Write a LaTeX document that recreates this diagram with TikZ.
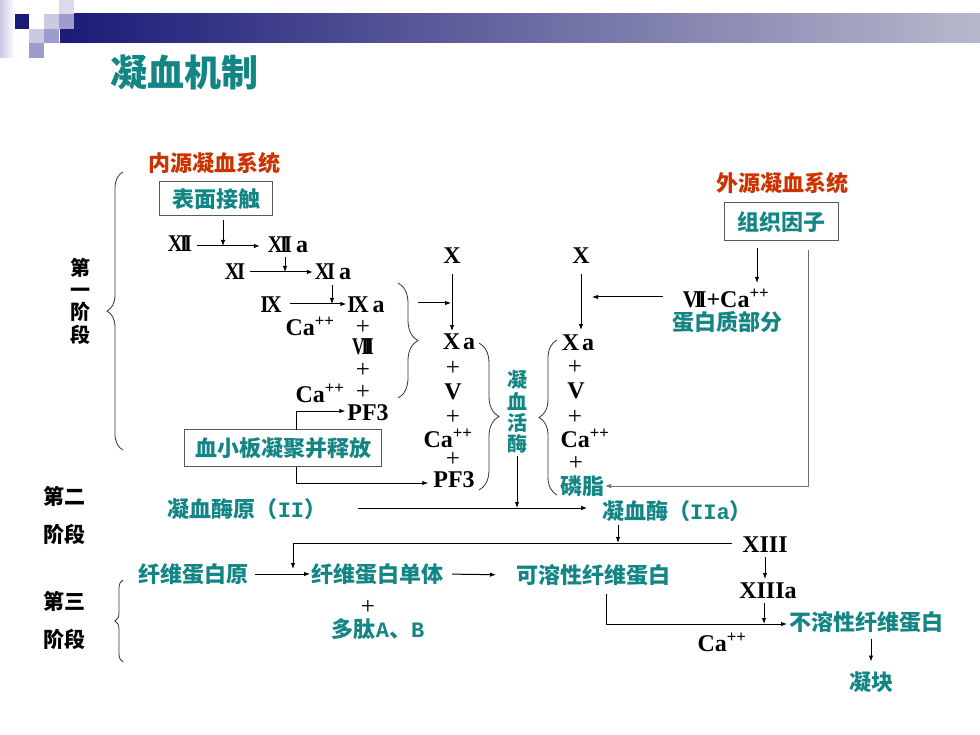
\documentclass[tikz,border=0pt]{standalone}
\usepackage{fontspec}
\setmainfont{Liberation Serif}
\setmonofont{Liberation Mono}
\newfontfamily\cjk{Noto Sans CJK SC}
\usetikzlibrary{arrows.meta,decorations.pathreplacing}
\definecolor{tealc}{HTML}{138585}
\definecolor{redc}{HTML}{CC3300}
\definecolor{navyc}{HTML}{1A1A78}
\definecolor{barend}{HTML}{B8B8CC}
\definecolor{sqlight}{HTML}{CACAE2}
\definecolor{sqmid}{HTML}{9C9CCE}
\definecolor{linegray}{HTML}{707070}
\newcommand{\nXII}{\scalebox{0.85}[1]{X\kern-3pt I\kern-4.5pt I}}
\newcommand{\nXI}{\scalebox{0.85}[1]{X\kern-3pt I}}
\newcommand{\nIX}{\scalebox{0.9}[1]{I\kern-3pt X}}
\newcommand{\nVIII}{\scalebox{0.72}[1]{V\kern-4pt I\kern-5.5pt I\kern-5.5pt I}}
\newcommand{\nVII}{\scalebox{0.88}[1]{V\kern-4pt I\kern-5pt I}}
\begin{document}
\begin{tikzpicture}[x=1pt,y=-1pt,
 every node/.style={inner sep=0pt, outer sep=0pt},
 rn/.style={font=\fontsize{24}{24}\selectfont\bfseries},
 pl/.style={font=\fontsize{25}{25}\selectfont},
 tl/.style={text=tealc, font=\cjk\bfseries\fontsize{22}{22}\selectfont},
 rd/.style={text=redc, font=\cjk\bfseries\fontsize{22}{22}\selectfont},
 stg/.style={font=\cjk\bfseries\fontsize{21}{22.3}\selectfont, align=center},
 bx/.style={draw=black!65, line width=1pt},
 arr/.style={-{Latex[length=6pt,width=4.5pt]}, line width=1pt},
 brc/.style={decorate, decoration={brace, amplitude=#1}, line width=0.8pt, draw=black!80},
 brc/.default=15pt,
]
\useasboundingbox (0,0) rectangle (980,735);
\fill[white] (0,0) rectangle (980,735);
% header
\shade[left color=navyc, right color=barend] (60,14) rectangle (980,43);
\shade[left color=sqlight, right color=white] (0,0) rectangle (15,58);
\fill[navyc] (15,14) rectangle (29,29);
\fill[sqlight] (44,14) rectangle (59,29);
\fill[sqlight!70] (59,0) rectangle (74,14);
\fill[sqmid] (59,14) rectangle (74,29);
\fill[sqlight] (29,29) rectangle (44,43);
\fill[sqmid] (44,29) rectangle (59,43);
\fill[sqmid] (29,43) rectangle (44,58);
\node[text=tealc, font=\cjk\bfseries\fontsize{37}{37}\selectfont] (title) at (184,72) {凝血机制};

% stage labels
\node[stg, font=\cjk\bfseries\fontsize{20}{22.3}\selectfont] (s1) at (80,301) {第\\一\\阶\\段};
\node[stg] (s2a) at (64,496) {第二};
\node[stg] (s2b) at (64,534) {阶段};
\node[stg] (s3a) at (64,601) {第三};
\node[stg] (s3b) at (64,639) {阶段};
\draw[brc=16pt] (123,450) -- (123,172);
\draw[brc=8pt] (123,662) -- (123,580);

% intrinsic
\node[rd] (neiyuan) at (214,163) {内源凝血系统};
\node[tl, bx, minimum width=113pt, minimum height=34pt] (biaomian) at (216,199) {表面接触};
\node[rn] (xii) at (180,244) {\nXII};
\node[rn] (xiia) at (288,245) {\nXII\,a};
\node[rn] (xi) at (235,272) {\nXI};
\node[rn] (xia) at (333,272) {\nXI\,a};
\node[rn] (ix) at (271,305) {\nIX};
\node[rn] (ixa) at (366,305) {\nIX\,a};
\node[rn] (ca1) at (310,326) {Ca\textsuperscript{++}};
\node[pl] (p1) at (363,327) {+};
\node[rn] (viii) at (363,347) {\nVIII};
\node[pl] (p2) at (363,370) {+};
\node[rn] (ca2) at (320,393) {Ca\textsuperscript{++}};
\node[pl] (p3) at (363,392) {+};
\node[rn] (pf3a) at (368,413) {PF3};
\node[tl, bx, minimum width=197pt, minimum height=37pt] (xxb) at (283,448) {血小板凝聚并释放};

\coordinate (t1) at (223,246);
\coordinate (t2) at (285,272);
\coordinate (t3) at (332,304);
\draw[arr, shorten <=5pt, shorten >=8pt] (xii.east |- t1) -- (xiia.west |- t1);
\draw[arr, shorten <=4pt] (biaomian.south -| t1) -- (t1);
\draw[arr, shorten <=5pt, shorten >=2pt] (xi) -- (xia);
\draw[arr, shorten <=4pt] (xiia.south -| t2) -- (t2);
\draw[arr, shorten <=8pt, shorten >=1pt] (ix.east |- t3) -- (ixa.west |- t3);
\draw[arr, shorten <=5pt] (xia.south -| t3) -- (t3);

\draw[brc=20pt] (398,283) -- (398,398);
\coordinate (b2) at (418,303);
\coordinate (j1) at (451,303);
\draw[arr] (b2) -- (j1);

% middle column
\node[rn] (xl) at (452,256) {X};
\node[rn] (xal) at (459,342) {X\hspace{3pt}a};
\draw[arr, shorten <=10pt, shorten >=3pt] (xl.south) -- (xl.south |- xal.north);
\node[pl] (p4) at (453,368) {+};
\node[rn] (vl) at (453,392) {V};
\node[pl] (p5) at (453,417) {+};
\node[rn] (cal) at (448,438) {Ca\textsuperscript{++}};
\node[pl] (p6) at (453,459) {+};
\node[rn] (pf3b) at (454,480) {PF3};
\draw[brc=20pt] (479,343) -- (479,490);

\coordinate (m1) at (296,411);
\coordinate (m2) at (296,483);
\draw[arr, shorten >=2pt] (xxb.north -| m1) -- (m1) -- (pf3a.west |- m1);
\draw[arr, shorten >=5pt] (xxb.south -| m2) -- (m2) -- (pf3b.west |- m2);

\node[tl, align=center, font=\cjk\bfseries\fontsize{20}{21.3}\selectfont] (nxhm) at (517,412) {凝\\血\\活\\酶};

% right column
\node[rn] (xr) at (581,256) {X};
\node[rn] (xar) at (578,343) {X\hspace{3pt}a};
\draw[arr, shorten <=10pt, shorten >=5pt] (xr.south) -- (xr.south |- xar.north);
\node[pl] (p7) at (575,367) {+};
\node[rn] (vr) at (576,391) {V};
\node[pl] (p8) at (575,417) {+};
\node[rn] (car) at (585,438) {Ca\textsuperscript{++}};
\node[pl] (p9) at (576,463) {+};
\node[tl] (linzhi) at (582,486) {磷脂};
\draw[brc=18pt] (557,495) -- (557,340);

% extrinsic
\node[rd] (waiyuan) at (782,183) {外源凝血系统};
\node[tl, bx, minimum width=114pt, minimum height=38pt] (zzyz) at (781,222) {组织因子};
\node[rn] (vii) at (726,298) {\nVII+Ca\textsuperscript{++}};
\node[tl] (dbz) at (727,322) {蛋白质部分};
\coordinate (k1) at (757,283);
\draw[arr, shorten <=7pt] (zzyz.south -| k1) -- (k1);
\coordinate (j2) at (592,297);
\draw[arr, shorten <=20pt] (vii.west |- j2) -- (j2);
\coordinate (k2) at (808,486);
\draw[arr, draw=linegray, shorten <=9pt, shorten >=1pt] (zzyz.south -| k2) -- (k2) -- (linzhi.east);

% stage 2
\node[tl] (nxmy) at (247,509) {凝血酶原（{\ttfamily II}）};
\node[tl] (nxm) at (677,511) {凝血酶（{\ttfamily IIa}）};
\coordinate (j3) at (517,508);
\draw[arr, shorten <=3pt] (nxhm.south) -- (j3);
\draw[arr, shorten <=32pt, shorten >=15pt] (nxmy.east |- j3) -- (nxm.west |- j3);

% stage 3
\node[rn] (xiii) at (765,545) {XIII};
\coordinate (j4) at (618,543);
\draw[arr, shorten <=3pt] (nxm.south -| j4) -- (j4);
\coordinate (j5) at (293,543);
\coordinate (j6) at (293,569);
\draw[arr, shorten <=10pt] (xiii.west |- j5) -- (j5) -- (j6);

\node[tl] (xwdby) at (193,574) {纤维蛋白原};
\node[tl] (xwdbdt) at (377,574) {纤维蛋白单体};
\node[tl] (krx) at (593,575) {可溶性纤维蛋白};
\draw[arr, shorten <=7pt, shorten >=1pt] (xwdby.east) -- (xwdbdt.west);
\draw[arr, shorten <=9pt, shorten >=20pt] (xwdbdt.east) -- (krx.west);
\node[pl] (p10) at (368,607) {+};
\node[tl] (dt) at (378,629) {多肽{\ttfamily A}、{\ttfamily B}};

\node[rn] (xiiia) at (768,591) {XIIIa};
\draw[arr, shorten <=4pt, shorten >=4pt] (xiii.south) -- (xiii.south |- xiiia.north);
\coordinate (j7) at (764,624);
\draw[arr, shorten <=4pt] (xiiia.south -| j7) -- (j7);
\node[tl] (bwr) at (866,622) {不溶性纤维蛋白};
\coordinate (j8) at (606,624);
\draw[arr, shorten <=8pt, shorten >=2pt] (krx.south -| j8) -- (j8) -- (bwr.west |- j8);
\node[rn] (ca3) at (722,642) {Ca\textsuperscript{++}};
\node[tl] (nk) at (871,682) {凝块};
\draw[arr, shorten <=6pt, shorten >=10pt] (bwr.south -| nk) -- (nk.north);
\end{tikzpicture}
\end{document}
